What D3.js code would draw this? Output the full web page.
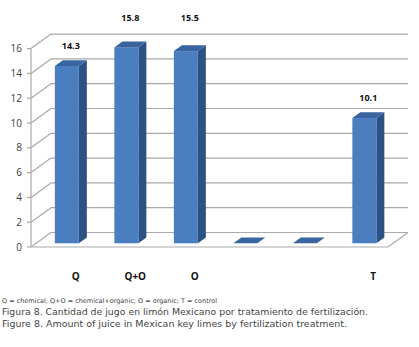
<!DOCTYPE html>
<html>
<head>
<meta charset="utf-8">
<script src="https://cdn.jsdelivr.net/npm/d3@7/dist/d3.min.js"></script>
<style>
  html, body { margin: 0; padding: 0; background: #fff; }
  svg { display: block; }
</style>
</head>
<body>
<svg id="chart" width="419" height="347"></svg>
<script>
// ---- data ----
const categories = ["Q", "Q+O", "O", "", "", "T"];
const values = [14.3, 15.8, 15.5, 0, 0, 10.1];
const valueLabels = ["14.3", "15.8", "15.5", "", "", "10.1"];
const yTicks = [0, 2, 4, 6, 8, 10, 12, 14, 16];
const legendNote = "Q = chemical; Q+O = chemical+organic; O = organic; T = control";
const captionEs = "Figura 8. Cantidad de jugo en limón Mexicano por tratamiento de fertilización.";
const captionEn = "Figure 8. Amount of juice in Mexican key limes by fertilization treatment.";

// ---- layout ----
const svg = d3.select("#chart");
const DX = 20, DY = -14.5;          // full depth offset of the 3D box
const f0 = 0.255, f1 = 0.655;       // bar front/back depth fractions
const x0 = 31, x1 = 388;

const y = d3.scaleLinear().domain([0, 16]).range([247, 48.6]);
const x = d3.scaleBand().domain(d3.range(categories.length)).range([32, 389]).paddingInner(0).paddingOuter(0);
const barW = 24;

const grid = "#a9a9a9";
const g = svg.append("g");

// back wall gridlines + left wall diagonals
yTicks.forEach(t => {
  const yy = y(t);
  g.append("line").attr("x1", x0 + DX).attr("y1", yy + DY).attr("x2", x1 + DX).attr("y2", yy + DY)
    .attr("stroke", grid).attr("stroke-width", 1.2);
  g.append("line").attr("x1", x0).attr("y1", yy).attr("x2", x0 + DX).attr("y2", yy + DY)
    .attr("stroke", grid).attr("stroke-width", 1.2);
});
// floor front edge and right edge
g.append("polyline")
  .attr("points", `${x0},${y(0)} ${x1},${y(0)} ${x1 + DX},${y(0) + DY}`)
  .attr("fill", "none").attr("stroke", grid).attr("stroke-width", 1.2);

// vertical axis line and ticks
g.append("line").attr("x1", x0).attr("x2", x0).attr("y1", y(16)).attr("y2", y(0))
  .attr("stroke", grid).attr("stroke-width", 1.2);
yTicks.forEach(t => {
  g.append("line").attr("x1", x0 - 4).attr("x2", x0).attr("y1", y(t)).attr("y2", y(t))
    .attr("stroke", grid).attr("stroke-width", 1.2);
  g.append("text").attr("x", 22).attr("y", y(t)).attr("dy", "0.35em")
    .attr("text-anchor", "end").attr("font-family", "Open Sans, sans-serif")
    .attr("font-size", 10).attr("fill", "#404040").text(t);
});

// bars
const cFront = "#4a7ebf", cSide = "#2c5283", cTop = "#3865a0";
const topLine = y(16) + DY;
values.forEach((v, i) => {
  const cx = x(i) + x.bandwidth() / 2;
  const fl = cx - barW / 2 + DX * f0;
  const fr = fl + barW;
  const fb = y(0) + DY * f0;
  const ft = y(v) + DY * f0;
  const ddx = DX * (f1 - f0), ddy = DY * (f1 - f0);
  const bg = g.append("g");
  bg.append("path").attr("d", `M${fr},${fb} L${fr + ddx},${fb + ddy} L${fr + ddx},${ft + ddy} L${fr},${ft} Z`)
    .attr("fill", cSide);
  if (v > 0) {
    bg.append("rect").attr("x", fl).attr("y", ft).attr("width", barW).attr("height", fb - ft)
      .attr("fill", cFront);
  }
  bg.append("path").attr("d", `M${fl},${ft} L${fl + ddx},${ft + ddy} L${fr + ddx},${ft + ddy} L${fr},${ft} Z`)
    .attr("fill", cTop);

  if (valueLabels[i]) {
    let ly = ft + ddy - 14;
    if (ly < topLine) ly = topLine - 16;   // labels that would sit on the top gridline move above the box
    g.append("text").attr("x", cx + DX * (f0 + f1) / 2).attr("y", ly).attr("dy", "0.35em")
      .attr("text-anchor", "middle").attr("font-family", "Open Sans, sans-serif")
      .attr("font-weight", "bold").attr("font-size", 9).attr("fill", "#111").text(valueLabels[i]);
  }
  if (categories[i]) {
    g.append("text").attr("x", cx + 14).attr("y", 276).attr("dy", "0.35em")
      .attr("text-anchor", "middle").attr("font-family", "Open Sans, sans-serif")
      .attr("font-weight", "bold").attr("font-size", 10).attr("fill", "#111").text(categories[i]);
  }
});

// captions
svg.append("text").attr("x", 2).attr("y", 302.5).attr("font-family", "DejaVu Sans, sans-serif")
  .attr("font-size", 6.5).attr("fill", "#444").attr("textLength", 215).attr("lengthAdjust", "spacingAndGlyphs")
  .text(legendNote);
svg.append("text").attr("x", 2).attr("y", 315).attr("font-family", "DejaVu Sans, sans-serif")
  .attr("font-size", 9).attr("fill", "#444").attr("textLength", 366).attr("lengthAdjust", "spacingAndGlyphs")
  .text(captionEs);
svg.append("text").attr("x", 2).attr("y", 327).attr("font-family", "DejaVu Sans, sans-serif")
  .attr("font-size", 9).attr("fill", "#444").attr("textLength", 345).attr("lengthAdjust", "spacingAndGlyphs")
  .text(captionEn);
</script>
</body>
</html>
